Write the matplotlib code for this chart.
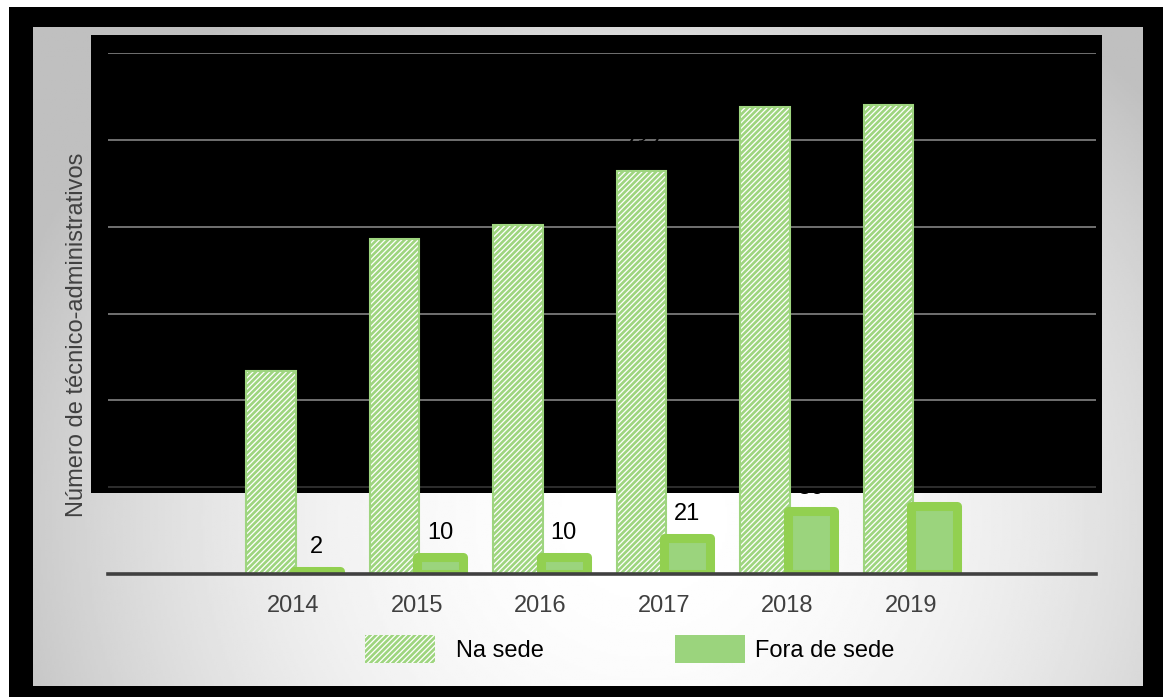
import numpy as np
import matplotlib.pyplot as plt
from matplotlib.patches import Rectangle, Patch

# dados
anos = ['2014', '2015', '2016', '2017', '2018', '2019']
na_sede = [117, 193, 201, 232, 269, 270]
fora_sede = [2, 10, 10, 21, 36, 39]
grade_y = [50, 100, 150, 200, 250, 300]

plt.rcParams['font.family'] = ['Liberation Sans', 'DejaVu Sans']
plt.rcParams['hatch.linewidth'] = 1.9

W, H = 1163, 697


def fx(px):
    return px / W


def fy(py):
    return 1 - py / H


fig = plt.figure(figsize=(W / 100, H / 100), dpi=100)
fig.patch.set_facecolor('white')

# moldura preta (zorder negativo para ficar atrás dos eixos)
fig.patches.append(Rectangle((fx(9), 0), 1 - fx(9), fy(7), transform=fig.transFigure,
                             facecolor='black', edgecolor='none', zorder=-1))

# fundo cinza com gradiente
bg = fig.add_axes([fx(33), fy(686), fx(1143) - fx(33), fy(27) - fy(686)])
xs = np.linspace(0, 1, 500)
ys = np.linspace(0, 1, 300)
X, Y = np.meshgrid(xs, ys)
r2 = ((X - 0.55) / 0.6) ** 2 + ((Y - 0.25) / 0.95) ** 2
grad = np.clip(1 - 0.24 * r2, 0.75, 1)
bg.imshow(grad, extent=[0, 1, 0, 1], origin='lower', aspect='auto', cmap='gray', vmin=0, vmax=1)
bg.axis('off')

ax = fig.add_axes([fx(108), fy(574), fx(1096) - fx(108), fy(53) - fy(574)])
ax.set_facecolor('none')

# retângulo preto por cima da parte de cima do gráfico
ax.add_artist(Rectangle((fx(91), fy(493)), fx(1102) - fx(91), fy(35) - fy(493),
                        transform=fig.transFigure, facecolor='black', edgecolor='none',
                        zorder=0.2, clip_on=False))

for g in grade_y:
    cor = '#3a3a3a' if g == 50 else '#8f8f8f'
    ax.axhline(g, color=cor, lw=1.1, zorder=0.5)

x = np.arange(1, len(anos) + 1)
verde = '#92D050'
verde_claro = '#9BD47D'
verde_hachura = '#9ED57F'

ax.bar(x - 0.18, na_sede, 0.4, color='white', edgecolor=verde_hachura, hatch='//////',
       lw=1.5, zorder=2)
ax.bar(x + 0.19, fora_sede, 0.37, color=verde_claro, edgecolor=verde, lw=6.5,
       joinstyle='round', zorder=2.1)

for xi, v in zip(x, na_sede):
    ax.annotate(str(v), (xi - 0.18, v), xytext=(0, 15), textcoords='offset points',
                ha='center', va='baseline', fontsize=17, color='black', zorder=1)
for xi, v in zip(x, fora_sede):
    ax.annotate(str(v), (xi + 0.19, v), xytext=(0, 12.5), textcoords='offset points',
                ha='center', va='baseline', fontsize=17, color='black', zorder=0.1)

ax.axhline(0, color='#404040', lw=2.6, zorder=3, clip_on=False)

ax.set_xlim(0.5 - 1, len(anos) + 1.5)
ax.set_ylim(0, 300)
ax.set_xticks(x)
ax.set_xticklabels(anos, fontsize=17, color='#404040')
ax.set_yticks([])
ax.tick_params(axis='x', length=0, pad=15)
for s in ax.spines.values():
    s.set_visible(False)

fig.text(fx(77), fy(335), 'Número de técnico-administrativos', rotation=90,
         ha='center', va='center', fontsize=17, color='#404040')

# duas legendas separadas (o espaço até o texto não é igual nas duas)
leg_kw = dict(loc='center left', frameon=False, bbox_transform=fig.transFigure,
              fontsize=17, handlelength=2.97, handleheight=1.5, borderpad=0,
              borderaxespad=0)
leg1 = ax.legend([Patch(facecolor='white', edgecolor=verde_hachura, hatch='//////', lw=0)],
                 ['Na sede'], bbox_to_anchor=(fx(365), fy(649)), handletextpad=0.89,
                 **leg_kw)
ax.add_artist(leg1)
ax.legend([Patch(facecolor=verde_claro, edgecolor='none')], ['Fora de sede'],
          bbox_to_anchor=(fx(675), fy(649)), handletextpad=0.42, **leg_kw)

fig.savefig('out.png', dpi=100)
